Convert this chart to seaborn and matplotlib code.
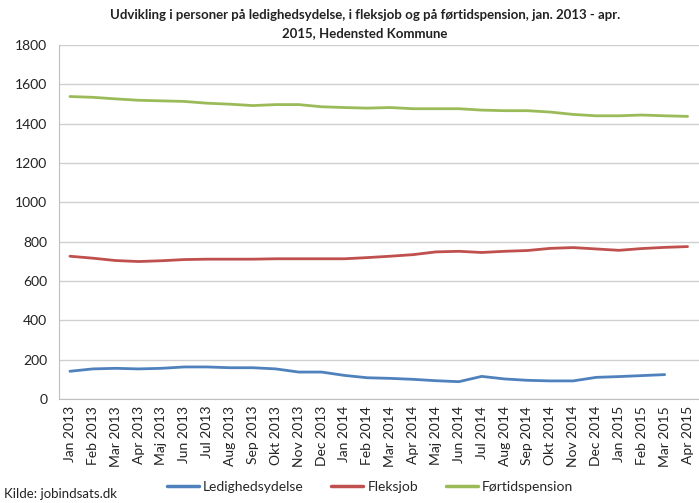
import matplotlib
matplotlib.use("Agg")
import matplotlib.pyplot as plt
import seaborn as sns
import pandas as pd
import numpy as np

months = ["Jan 2013", "Feb 2013", "Mar 2013", "Apr 2013", "Maj 2013", "Jun 2013", "Jul 2013",
          "Aug 2013", "Sep 2013", "Okt 2013", "Nov 2013", "Dec 2013", "Jan 2014", "Feb 2014",
          "Mar 2014", "Apr 2014", "Maj 2014", "Jun 2014", "Jul 2014", "Aug 2014", "Sep 2014",
          "Okt 2014", "Nov 2014", "Dec 2014", "Jan 2015", "Feb 2015", "Mar 2015", "Apr 2015"]

ledighedsydelse = [141, 153, 156, 153, 156, 163, 163, 159, 159, 153, 137, 137, 120, 108,
                   105, 100, 93, 88, 115, 102, 95, 92, 92, 110, 114, 119, 124, np.nan]
fleksjob = [726, 716, 704, 699, 703, 709, 711, 711, 711, 713, 713, 713, 713, 719,
            726, 734, 748, 751, 745, 751, 755, 766, 770, 763, 756, 765, 771, 775]
foertidspension = [1538, 1534, 1526, 1519, 1516, 1513, 1504, 1499, 1492, 1497, 1497, 1486, 1482, 1479,
                   1482, 1476, 1476, 1476, 1469, 1466, 1466, 1459, 1447, 1440, 1440, 1444, 1440, 1437]

series_names = ["Ledighedsydelse", "Fleksjob", "Førtidspension"]
colors = ["#4F81BD", "#C0504D", "#9BBB59"]

frames = []
for name, vals in zip(series_names, [ledighedsydelse, fleksjob, foertidspension]):
    frames.append(pd.DataFrame({"idx": np.arange(len(months)), "value": vals, "serie": name}))
df = pd.concat(frames, ignore_index=True)

sns.set_style("white")
plt.rcParams["font.family"] = ["Lato", "DejaVu Sans"]

fig = plt.figure(figsize=(6.99, 5.03), dpi=100)
ax = fig.add_axes([58.5/699, 1 - 399/503, 1 - 58.5/699, (399 - 45)/503])

sns.lineplot(data=df, x="idx", y="value", hue="serie", palette=colors,
             hue_order=series_names, linewidth=2.0, ax=ax, legend=True)

ax.set_ylim(0, 1800)
ax.set_yticks(np.arange(0, 1801, 200))
ax.set_xlim(-0.5, 27.27)
ax.set_xticks(np.arange(len(months)))
ax.set_xticklabels(months, rotation=90, fontsize=10, color="#222222")
ax.set_xticks(np.arange(-0.5, len(months), 1), minor=True)
ax.tick_params(axis="x", which="major", length=0, pad=5)
ax.tick_params(axis="x", which="minor", length=4, color="#BFBFBF", width=0.8, direction="out")
ax.tick_params(axis="y", which="major", length=4, color="#BFBFBF", width=0.8, direction="out",
               labelsize=10, labelcolor="#222222", pad=4)
ax.yaxis.grid(True, color="#D0D0D0", linewidth=1.0)
ax.set_axisbelow(True)
ax.set_xlabel("")
ax.set_ylabel("")
for s in ["top", "right"]:
    ax.spines[s].set_visible(False)
ax.spines["left"].set_color("#BFBFBF")
ax.spines["bottom"].set_color("#BFBFBF")

leg = ax.legend(loc="center", bbox_to_anchor=(370/699, 1 - 487/503), bbox_transform=fig.transFigure,
                ncol=3, frameon=False, fontsize=10, handlelength=2.3, handletextpad=0.3,
                columnspacing=2.0)
for line in leg.get_lines():
    line.set_linewidth(2.5)

fig.text(365/699, 1 - 15/503,
         "Udvikling i personer på ledighedsydelse, i fleksjob og på førtidspension, jan. 2013 - apr.",
         ha="center", va="center", fontsize=9.5, fontweight="bold", color="#222222")
fig.text(365/699, 1 - 33/503, "2015, Hedensted Kommune",
         ha="center", va="center", fontsize=9.5, fontweight="bold", color="#222222")
fig.text(4/699, 1 - 494/503, "Kilde: jobindsats.dk", ha="left", va="center", fontsize=9.5,
         color="#222222")

fig.savefig("out.png", dpi=100)
